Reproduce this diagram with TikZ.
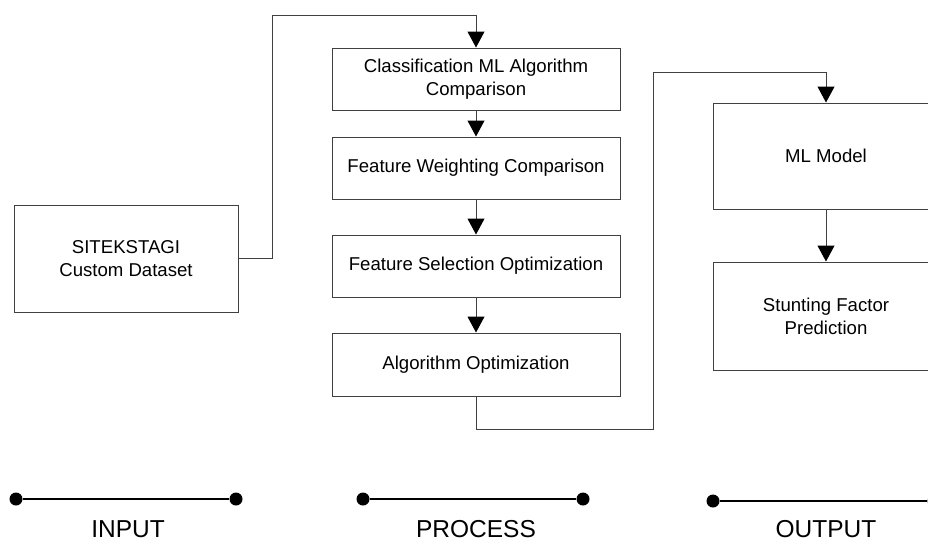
\documentclass[tikz,border=0pt]{standalone}
\usepackage{fontspec}
\setmainfont{Liberation Sans}
\usetikzlibrary{arrows.meta}
\begin{document}
\begin{tikzpicture}[x=1pt,y=-1pt,
  box/.style={draw=black!75, line width=1pt, rectangle, inner sep=0pt, align=center,
    font=\fontsize{18.6}{23}\selectfont},
  conn/.style={draw=black!75, line width=1pt},
  arr/.style={conn, -{Triangle[length=16pt,width=17pt,black]}},
  dotnode/.style={circle, fill=black, inner sep=0pt, minimum size=13pt},
  phase/.style={draw=black, line width=1.2pt},
  lbl/.style={font=\fontsize{24.5}{28}\selectfont, inner sep=1pt}]
\useasboundingbox (0,0) rectangle (928,542);
% input
\node[box, minimum width=224pt, minimum height=107pt] (site) at (126,258.5) {SITEKSTAGI\\Custom Dataset};
% process
\node[box, minimum width=288pt, minimum height=62pt] (cls) at (476,79) {Classification ML Algorithm\\Comparison};
\node[box, minimum width=288pt, minimum height=62pt] (fw) at (476,168) {Feature Weighting Comparison};
\node[box, minimum width=288pt, minimum height=62pt] (fs) at (476,266) {Feature Selection Optimization};
\node[box, minimum width=288pt, minimum height=63pt] (ao) at (476,364.5) {Algorithm Optimization};
% output
\node[box, minimum width=226pt, minimum height=106pt] (ml) at (826,156) {ML Model};
\node[box, minimum width=226pt, minimum height=108pt] (sf) at (826,316) {Stunting Factor\\Prediction};
% connectors
\draw[arr] (site.east) -- (272,258.5) -- (272,15) -- (476,15) -- (cls.north);
\draw[arr] (cls) -- (fw);
\draw[arr] (fw) -- (fs);
\draw[arr] (fs) -- (ao);
\draw[arr] (ao.south) -- (476,429) -- (653,429) -- (653,72) -- (826,72) -- (ml.north);
\draw[arr] (ml) -- (sf);
% phase lines
\node[dotnode] (i1) at (16,499) {};
\node[dotnode] (i2) at (236,499) {};
\node[dotnode] (p1) at (363,499) {};
\node[dotnode] (p2) at (583,499) {};
\node[dotnode] (o1) at (713,501) {};
\node[dotnode] (o2) at (934,501) {};
\draw[phase] (i1) -- (i2);
\draw[phase] (p1) -- (p2);
\draw[phase] (o1) -- (o2);
\node[lbl] (tin) at (128,529) {INPUT};
\node[lbl] (tpr) at (476,529) {PROCESS};
\node[lbl] (tout) at (826,529) {OUTPUT};
\end{tikzpicture}
\end{document}
